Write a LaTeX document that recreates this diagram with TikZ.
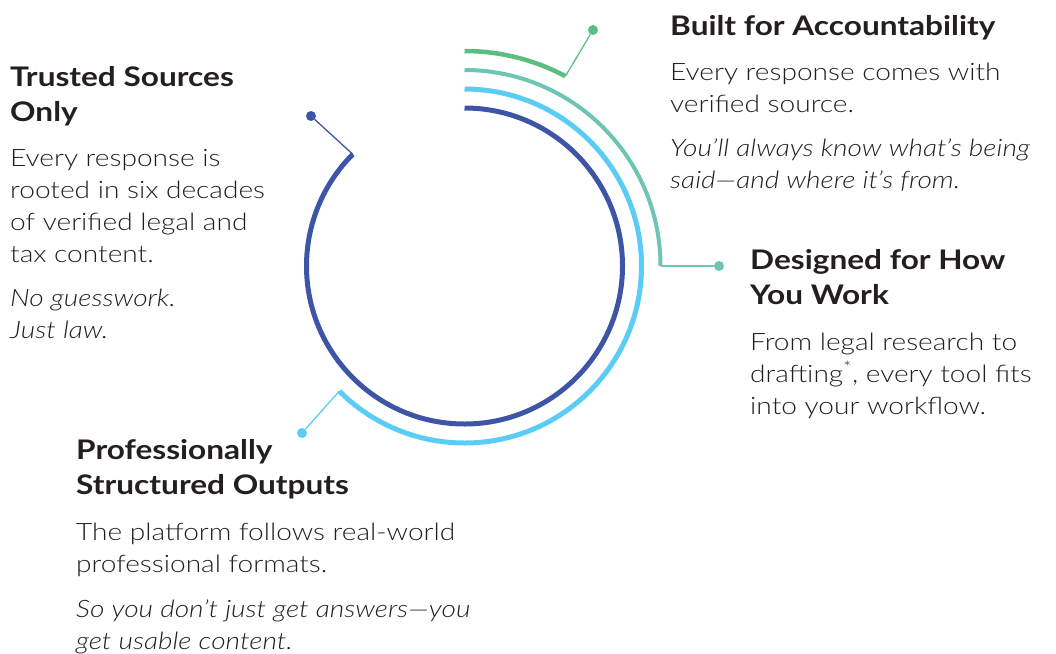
\documentclass[tikz,border=0pt]{standalone}
\usepackage{fontspec}
\setmainfont{Lato Light}[FakeStretch=1.17, BoldFont=Lato Bold, ItalicFont=Lato Light Italic]
\usepackage{xcolor}
\usetikzlibrary{calc}
\definecolor{ringA}{HTML}{3D55A6}
\definecolor{ringB}{HTML}{5BCCF6}
\definecolor{ringC}{HTML}{6DC6B3}
\definecolor{ringD}{HTML}{5CBD83}
\definecolor{ink}{HTML}{231F20}
\tikzset{
  head/.style={anchor=north west, inner sep=0, align=left, text=ink, font=\fontsize{27}{35}\selectfont\bfseries},
  body/.style={anchor=north west, inner sep=0, align=left, text=ink, font=\fontsize{24}{32}\selectfont},
  note/.style={body, font=\fontsize{24}{32}\selectfont\itshape},
  dot/.style={circle, fill, inner sep=0, minimum size=10pt},
  lead/.style={line width=1.3pt}
}
\begin{document}
\begin{tikzpicture}[x=1pt,y=1pt]
\useasboundingbox (0,0) rectangle (1056,-653);
\coordinate (O) at (464.5,-266);
\foreach \r/\e/\w/\col/\p/\n in {158/-225/5/ringA/{(311,-116)}/trust, 177/-135/5/ringB/{(302,-433)}/prof, 196/0/4/ringC/{(719,-266)}/work, 215/62/4.5/ringD/{(593,-30)}/acc} {
    \draw[\col, line width=\w pt] ($(O)+(90:\r)$) arc[start angle=90, end angle=\e, radius=\r] coordinate (end\n);
    \node[dot, \col] (dot\n) at \p {};
    \draw[lead, \col] (end\n) -- (dot\n);
}
\node[head] (trustH) at (10,-66) {Trusted Sources\\Only};
\node[body] (trustB) at (10,-149.5) {Every response is\\rooted in six decades\\of verified legal and\\tax content.};
\node[note] (trustN) at (10,-288.5) {No guesswork.\\Just law.};
\node[head] (accH) at (670,-15) {Built for Accountability};
\node[body] (accB) at (670,-62.5) {Every response comes with\\verified source.};
\node[note] (accN) at (670,-138.5) {You’ll always know what’s being\\said—and where it’s from.};
\node[head] (workH) at (750,-249) {Designed for How\\You Work};
\node[body] (workB) at (750,-332.5) {From legal research to\\drafting\textsuperscript{*}, every tool fits\\into your workflow.};
\node[head] (profH) at (76,-439) {Professionally\\Structured Outputs};
\node[body] (profB) at (76,-522.5) {The platform follows real-world\\professional formats.};
\node[note] (profN) at (76,-599.5) {So you don’t just get answers—you\\get usable content.};
\end{tikzpicture}
\end{document}
